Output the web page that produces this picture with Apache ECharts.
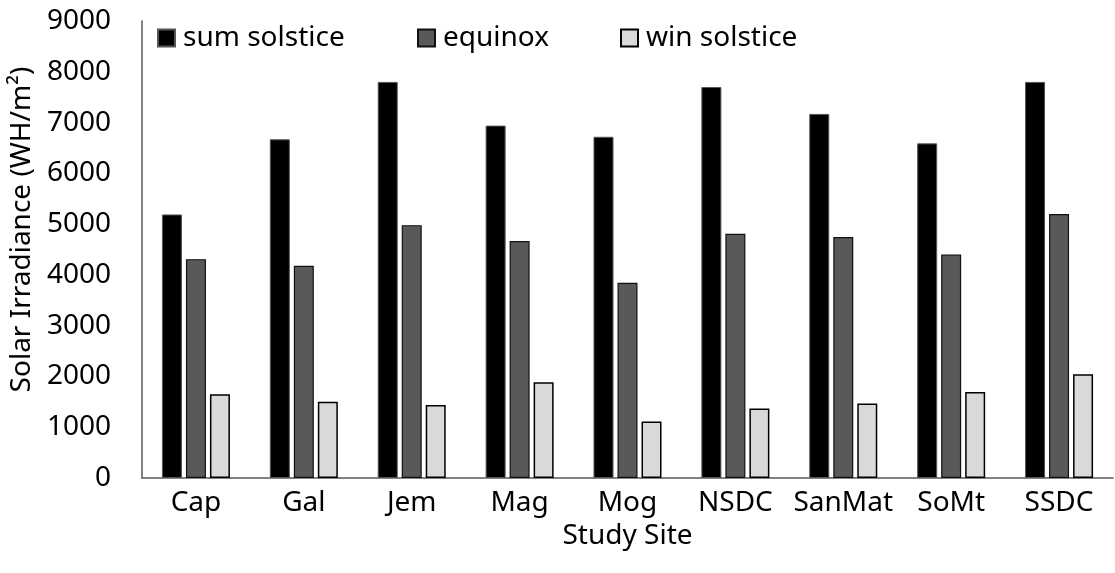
<!DOCTYPE html>
<html>
<head>
<meta charset="utf-8">
<script src="https://cdn.jsdelivr.net/npm/echarts@6/dist/echarts.min.js"></script>
<style>
  html, body { margin: 0; padding: 0; background: #ffffff; }
  #chart { width: 1115px; height: 573px; }
</style>
</head>
<body>
<div id="chart"></div>
<script>
// Study sites along the x axis
const sites = ['Cap', 'Gal', 'Jem', 'Mag', 'Mog', 'NSDC', 'SanMat', 'SoMt', 'SSDC'];

// Daily solar irradiance (WH/m²) per site
const sumSolstice = [5190, 6670, 7800, 6940, 6720, 7700, 7170, 6590, 7800];
const equinox     = [4310, 4180, 4980, 4665, 3845, 4810, 4745, 4400, 5200];
const winSolstice = [1650, 1500, 1440, 1885, 1115, 1370, 1465, 1695, 2045];

// Y axis range
const yMin = 0;
const yMax = 9000;
const yStep = 1000;

const FONT = '"Noto Sans", "DejaVu Sans", sans-serif';
const FS = 28;

const chart = echarts.init(document.getElementById('chart'), null, { renderer: 'canvas' });

function legendAt(name, left) {
  return {
    data: [name],
    left: left,
    top: 19,
    icon: 'rect',
    itemWidth: 17,
    itemHeight: 17,
    itemGap: 0,
    textStyle: { fontFamily: FONT, fontSize: FS, color: '#000', padding: [0, 0, 0, 3] }
  };
}

chart.setOption({
  animation: false,
  backgroundColor: '#ffffff',
  textStyle: { fontFamily: FONT },
  legend: [
    legendAt('sum solstice', 152),
    legendAt('equinox', 412),
    legendAt('win solstice', 615)
  ],
  grid: { left: 142, right: 2, top: 21, bottom: 95, containLabel: false },
  xAxis: {
    type: 'category',
    data: sites,
    name: 'Study Site',
    nameLocation: 'middle',
    nameGap: 42,
    nameTextStyle: { fontFamily: FONT, fontSize: FS, color: '#000' },
    axisLine: { show: true, lineStyle: { color: '#595959', width: 1.5 } },
    axisTick: { show: false },
    axisLabel: { fontFamily: FONT, fontSize: FS, color: '#000', margin: 11, interval: 0 },
    splitLine: { show: false }
  },
  yAxis: {
    type: 'value',
    min: yMin,
    max: yMax,
    interval: yStep,
    name: 'Solar Irradiance (WH/m²)',
    nameLocation: 'middle',
    nameGap: 95,
    nameRotate: 90,
    nameTextStyle: { fontFamily: FONT, fontSize: FS, color: '#000', padding: [0, 0, 0, 40] },
    axisLine: { show: true, lineStyle: { color: '#595959', width: 1.5 } },
    axisTick: { show: false },
    axisLabel: {
      fontFamily: FONT, fontSize: FS, color: '#000', margin: 31,
      formatter: (v) => String(v)
    },
    splitLine: { show: false }
  },
  series: [
    {
      name: 'sum solstice',
      type: 'bar',
      data: sumSolstice,
      barWidth: 20,
      barGap: '20%',
      itemStyle: { color: '#000000', borderColor: '#555555', borderWidth: 1 }
    },
    {
      name: 'equinox',
      type: 'bar',
      data: equinox,
      barWidth: 20,
      barGap: '20%',
      itemStyle: { color: '#595959', borderColor: '#111111', borderWidth: 1.2 }
    },
    {
      name: 'win solstice',
      type: 'bar',
      data: winSolstice,
      barWidth: 20,
      barGap: '20%',
      itemStyle: { color: '#d9d9d9', borderColor: '#000000', borderWidth: 1.5 }
    }
  ]
});
</script>
</body>
</html>
